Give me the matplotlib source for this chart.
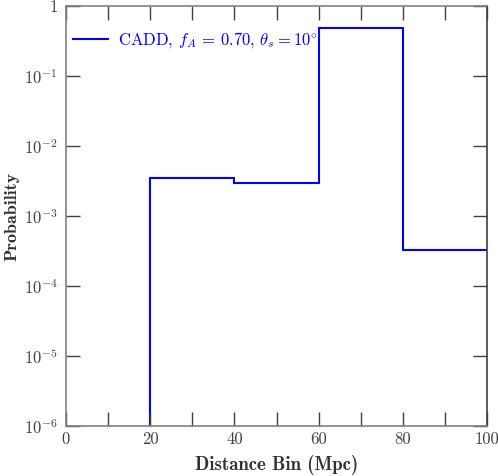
import matplotlib
matplotlib.use("Agg")
import matplotlib.pyplot as plt
import numpy as np
from matplotlib.ticker import FixedLocator, FuncFormatter, NullLocator

plt.rcParams['mathtext.fontset'] = 'cm'
plt.rcParams['font.family'] = 'serif'
plt.rcParams['font.serif'] = ['cmr10']
plt.rcParams['axes.formatter.use_mathtext'] = True

bin_edges = [0, 20, 40, 60, 80, 100]
probabilities = [0.0, 3.5e-3, 2.95e-3, 0.485, 3.25e-4]
label = r'CADD, $f_A$ = 0.70, $\theta_s = 10^{\circ}$'

fig = plt.figure(figsize=(4.98, 4.76), dpi=100)
ax = fig.add_axes([0.1325, 0.105, 0.8455, 0.8825])
ax.set_yscale('log')
ax.stairs(probabilities, bin_edges, color='#0000ff', lw=1.5, baseline=None, label=label)
ax.set_xlim(0, 100)
ax.set_ylim(1e-6, 1)

ax.xaxis.set_major_locator(FixedLocator(np.arange(0, 101, 10)))
ax.xaxis.set_major_formatter(FuncFormatter(lambda v, p: f'{int(v)}' if int(v) % 20 == 0 else ''))
ax.yaxis.set_major_locator(FixedLocator([10.0**k for k in range(-6, 1)]))
def yfmt(v, p):
    k = int(round(np.log10(v)))
    return '1' if k == 0 else r'$10^{%d}$' % k
ax.yaxis.set_major_formatter(FuncFormatter(yfmt))
ax.yaxis.set_minor_locator(NullLocator())
ax.tick_params(which='both', direction='in', top=True, right=True, length=10, width=1,
               color='#404040', labelcolor='#404040', labelsize=12)
ax.tick_params(axis='x', pad=4)
ax.tick_params(axis='y', pad=6)
for s in ax.spines.values():
    s.set_color('#808080')
    s.set_linewidth(1.2)
ax.spines['right'].set_color('#404040')

ax.set_xlabel('Distance Bin (Mpc)', fontfamily='cmb10', fontsize=13.5, color='#303030', labelpad=6)
ax.set_ylabel('Probability', fontfamily='cmb10', fontsize=13, color='#303030')
ax.yaxis.set_label_coords(-0.11, 0.5)

leg = ax.legend(loc='center left', bbox_to_anchor=(7/421, 1 - 34/420), frameon=False,
                fontsize=12, handlelength=2.1, handletextpad=0.6, borderpad=0,
                borderaxespad=0, labelcolor='#0000ff')

fig.savefig('out.png', dpi=100)
